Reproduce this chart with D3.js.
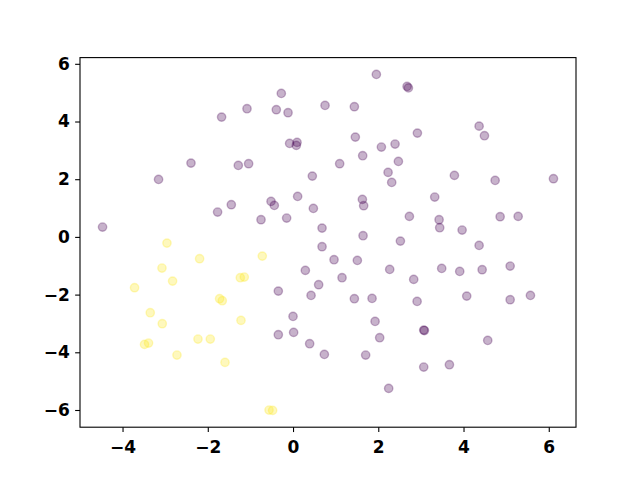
<!DOCTYPE html>
<html>
<head>
<meta charset="utf-8">
<script src="https://cdn.jsdelivr.net/npm/d3@7"></script>
<style>
  html, body { margin: 0; padding: 0; background: #ffffff; }
  svg { display: block; }
</style>
</head>
<body>
<div id="chart"></div>
<script>
// Class 0 (purple) points
const purpleX = [-1.676, -1.080, -2.394, -1.284, -1.042, -3.155, -1.448, -1.770, -4.469, 1.955,
  2.676, 2.707, -0.275, -0.392, -0.117, 0.751, 1.439, 1.462, -0.080, 0.094,
  0.077, 2.073, 2.394, 1.634, 2.472, 2.230, 2.315, 1.094, 0.453, -0.516,
  -0.439, 0.108, 0.477, 1.627, 1.657, -0.751, -0.150, 2.730, 0.681, 1.643,
  2.519, 0.681, 2.918, 4.366, 4.491, 3.786, 4.742, 6.110, 3.324, 3.427,
  3.441, 3.967, 4.859, 5.282, 4.366, 0.962, 1.509, 0.289, 2.268, 1.150,
  2.831, 0.601, -0.345, 0.423, 1.439, 1.854, 0.000, 1.925, -0.345, 0.014,
  2.033, 0.390, 0.735, 1.704, 2.244, 3.488, 3.911, 4.437, 5.094, 2.911,
  4.075, 5.094, 5.570, 3.066, 3.082, 4.568, 3.066, 3.669];
const purpleY = [4.152, 4.444, 2.558, 2.478, 2.537, 1.993, 1.116, 0.860, 0.340, 5.633,
  5.217, 5.165, 4.974, 4.409, 4.305, 4.558, 4.513, 3.459, 3.241, 3.276,
  3.172, 3.113, 3.217, 2.815, 2.617, 2.236, 1.889, 2.537, 2.107, 1.230,
  1.092, 1.404, 0.988, 1.300, 1.081, 0.596, 0.652, 0.711, 0.305, 0.042,
  -0.146, -0.340, 3.598, 3.840, 3.508, 2.132, 1.958, 2.017, 1.380, 0.596,
  0.319, 0.236, 0.700, 0.711, -0.295, -0.790, -0.815, -1.161, -1.127, -1.414,
  -1.473, -1.657, -1.879, -2.028, -2.142, -2.132, -2.756, -2.929, -3.390, -3.310,
  -3.494, -3.702, -4.073, -4.097, -5.251, -1.092, -1.196, -1.137, -1.012, -2.236,
  -2.052, -2.177, -2.028, -3.231, -3.245, -3.588, -4.513, -4.430];

// Class 1 (yellow) points
const yellowX = [-2.958, -2.192, -3.075, -2.826, -3.718, -1.237, -1.143, -1.723, -1.660, -3.350,
  -3.068, -1.221, -3.484, -3.390, -2.230, -1.941, -2.723, -1.596, -0.721, -0.563, -0.479];
const yellowY = [-0.215, -0.756, -1.081, -1.532, -1.761, -1.414, -1.393, -2.142, -2.211, -2.627,
  -3.009, -2.894, -3.726, -3.681, -3.542, -3.542, -4.097, -4.350, -0.666, -6.003, -6.014];

const xTicks = [-4, -2, 0, 2, 4, 6];
const yTicks = [-6, -4, -2, 0, 2, 4, 6];
const classColors = ["#440154", "#fde725"];

const W = 640, H = 480;
const margin = { left: 80, right: 64, top: 57.6, bottom: 52.8 };

const points = purpleX.map((x, i) => ({ x, y: purpleY[i], c: 0 }))
  .concat(yellowX.map((x, i) => ({ x, y: yellowY[i], c: 1 })));

function padded(ext) {
  const s = ext[1] - ext[0];
  return [ext[0] - 0.05 * s, ext[1] + 0.05 * s];
}

const xScale = d3.scaleLinear()
  .domain(padded(d3.extent(points, d => d.x)))
  .range([margin.left, W - margin.right]);
const yScale = d3.scaleLinear()
  .domain(padded(d3.extent(points, d => d.y)))
  .range([H - margin.bottom, margin.top]);

const FONT = "'DejaVu Sans', sans-serif";

const svg = d3.select("#chart").append("svg")
  .attr("width", W).attr("height", H)
  .style("font-family", FONT);

svg.append("rect").attr("width", W).attr("height", H).attr("fill", "#fff");

const fmt = d => (d < 0 ? "\u2212" + Math.abs(d) : String(d));

svg.append("g")
  .selectAll("circle")
  .data(points)
  .join("circle")
  .attr("cx", d => xScale(d.x))
  .attr("cy", d => yScale(d.y))
  .attr("r", 4.17)
  .attr("fill", d => classColors[d.c])
  .attr("fill-opacity", 0.3)
  .attr("stroke", d => classColors[d.c])
  .attr("stroke-opacity", 0.3)
  .attr("stroke-width", 1.39);

const xAxis = svg.append("g")
  .attr("transform", `translate(0,${H - margin.bottom})`)
  .call(d3.axisBottom(xScale).tickValues(xTicks).tickFormat(fmt).tickSize(4.86).tickPadding(8.5));
const yAxis = svg.append("g")
  .attr("transform", `translate(${margin.left},0)`)
  .call(d3.axisLeft(yScale).tickValues(yTicks).tickFormat(fmt).tickSize(4.86).tickPadding(5.4));

[xAxis, yAxis].forEach(a => {
  a.select(".domain").remove();
  a.selectAll(".tick line").attr("stroke", "#000").attr("stroke-width", 1.1);
  a.selectAll(".tick text")
    .attr("fill", "#000")
    .style("font-size", "17px")
    .style("font-weight", "bold")
    .style("font-family", FONT);
});

// frame (spines)
svg.append("rect")
  .attr("x", margin.left)
  .attr("y", margin.top)
  .attr("width", W - margin.left - margin.right)
  .attr("height", H - margin.top - margin.bottom)
  .attr("fill", "none")
  .attr("stroke", "#000")
  .attr("stroke-width", 1.1);
</script>
</body>
</html>
